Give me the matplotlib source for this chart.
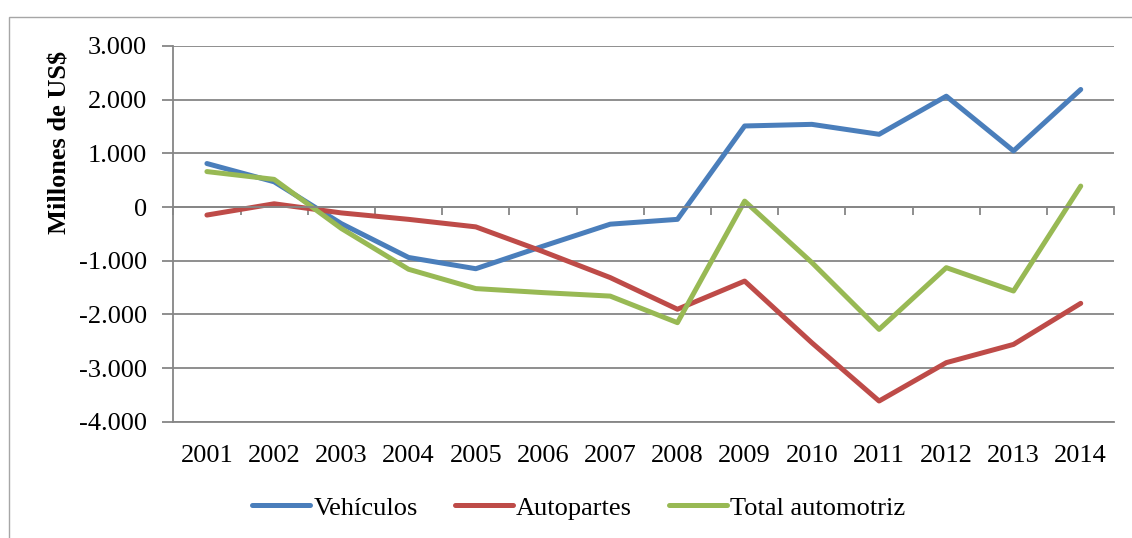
import matplotlib
matplotlib.use("Agg")
import matplotlib.pyplot as plt
from matplotlib.ticker import FuncFormatter, FixedLocator
from matplotlib.patches import Rectangle

# Data (millones de US$)
years = ["2001", "2002", "2003", "2004", "2005", "2006", "2007",
         "2008", "2009", "2010", "2011", "2012", "2013", "2014"]
vehiculos = [810, 470, -310, -940, -1150, -730, -320,
             -230, 1510, 1540, 1355, 2065, 1045, 2190]
autopartes = [-150, 60, -110, -230, -370, -830, -1315,
              -1905, -1380, -2530, -3615, -2900, -2560, -1795]
total = [660, 515, -400, -1160, -1520, -1595, -1660,
         -2155, 110, -1035, -2280, -1130, -1565, 390]

plt.rcParams['font.family'] = ['Liberation Serif', 'DejaVu Serif']

fig = plt.figure(figsize=(11.32, 5.38), dpi=100)
ax = fig.add_axes([0.1531, 0.2162, 0.8313, 0.6983])

x = range(len(years))
ax.plot(x, vehiculos, color='#4A7EBB', lw=3.6, label='Vehículos', solid_capstyle='round')
ax.plot(x, autopartes, color='#BE4B48', lw=3.6, label='Autopartes', solid_capstyle='round')
ax.plot(x, total, color='#98B954', lw=3.6, label='Total automotriz', solid_capstyle='round')

grid_c = '#868686'
ax.set_ylim(-4000, 3000)
ax.set_yticks(range(-4000, 3001, 1000))
ax.yaxis.set_major_formatter(FuncFormatter(lambda v, p: f"{int(v):,}".replace(',', '.')))
ax.grid(axis='y', color=grid_c, lw=1.3)
ax.set_axisbelow(True)

ax.set_xlim(-0.5, len(years) - 0.5)
ax.set_xticks(list(x))
ax.set_xticklabels(years)
ax.xaxis.set_minor_locator(FixedLocator([i - 0.5 for i in range(len(years) + 1)]))

# category axis crosses at zero, with boundary tick marks pointing down
ax.spines['top'].set_position(('data', 0))
ax.spines['right'].set_visible(False)
for s in ['top', 'left', 'bottom']:
    ax.spines[s].set_color(grid_c)
    ax.spines[s].set_linewidth(1.3)
ax.tick_params(axis='x', which='major', length=0, labelsize=19, pad=17, bottom=True, top=False)
ax.tick_params(axis='x', which='minor', top=True, bottom=False, direction='in',
               length=6, color=grid_c, width=1.3)
ax.tick_params(axis='y', length=8, color=grid_c, width=1.3, labelsize=19, pad=11)

ax.set_ylabel('Millones de US$', fontsize=19, fontweight='bold')
ax.yaxis.set_label_coords(-0.108, 0.742)

fig.legend(loc='center', bbox_to_anchor=(0.5115, 0.056), ncol=3, frameon=False,
           fontsize=19, handlelength=2.2, handletextpad=0.12, columnspacing=1.4)

# outer chart border (only top and left edges visible in the crop)
fig.patches.append(Rectangle((9 / 1132, -0.2), 1.2, 1.168, transform=fig.transFigure,
                             fill=False, edgecolor='#A6A6A6', lw=1.0))

fig.savefig('out.png', dpi=100)
